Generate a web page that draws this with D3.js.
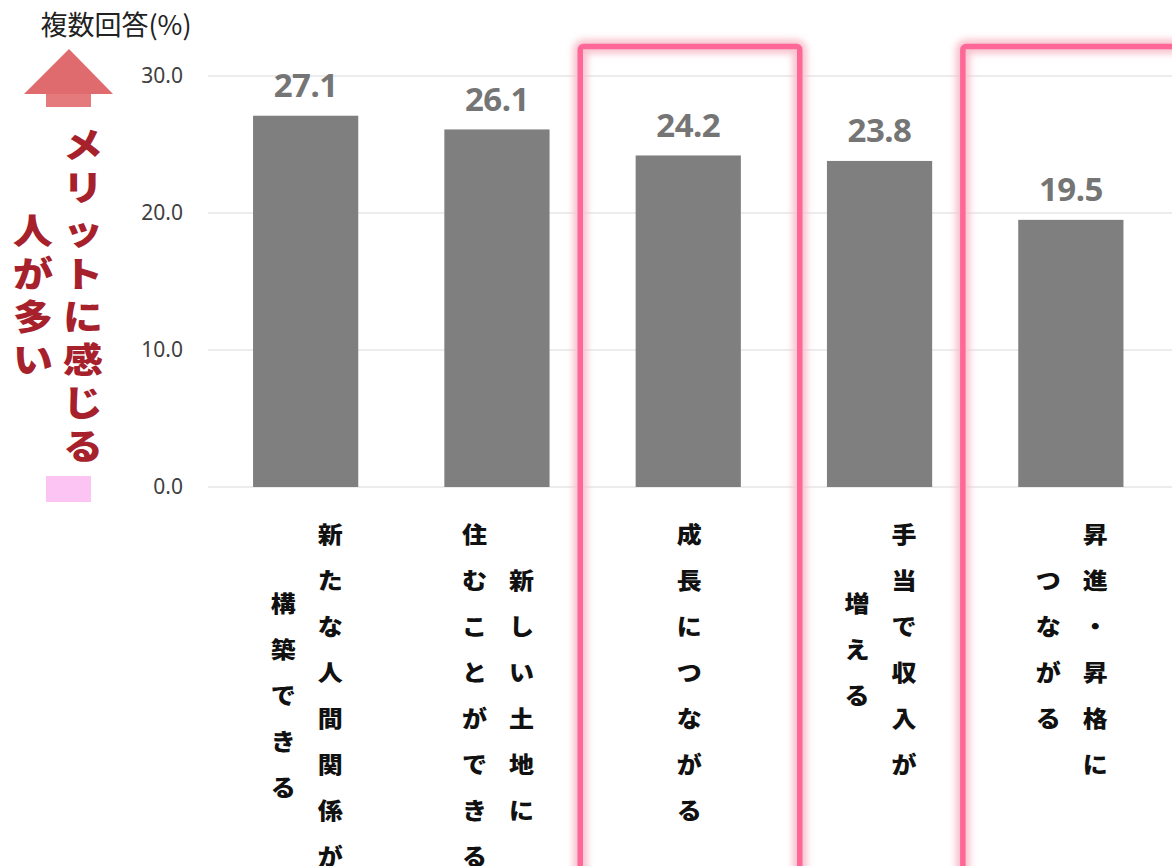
<!DOCTYPE html>
<html lang="ja">
<head>
<meta charset="utf-8">
<script src="https://cdn.jsdelivr.net/npm/d3@7"></script>
<style>
  html, body { margin: 0; padding: 0; background: #fff; }
  svg { display: block; }
</style>
</head>
<body>
<svg id="chart" width="1172" height="866"></svg>
<script>
// Survey: perceived merits (multiple answers, %)
const categories = [
  ["新たな人間関係が", "構築できる"],
  ["新しい土地に", "住むことができる"],
  ["成長につながる"],
  ["手当で収入が", "増える"],
  ["昇進・昇格に", "つながる"]
];
const values = [27.1, 26.1, 24.2, 23.8, 19.5];
const yTicks = [0, 10, 20, 30];
const highlighted = [2, 4];          // categories framed in pink
const yTitle = "複数回答(%)";
const sideNote = ["メリットに感じる", "人が多い"];

const W = 1172, H = 866;
const svg = d3.select("#chart");
const defs = svg.append("defs");
const glow = defs.append("filter").attr("id", "glow")
  .attr("x", "-20%").attr("y", "-20%").attr("width", "140%").attr("height", "140%");
glow.append("feGaussianBlur").attr("stdDeviation", 3.5);

const keys = categories.map((_, i) => i);
const x = d3.scaleBand().domain(keys).range([210, 210 + 191.3 * 5])
  .paddingInner(0.45).paddingOuter(0.225);
const y = d3.scaleLinear().domain([0, 30]).range([487, 76]);

// gridlines
svg.append("g").selectAll("line").data(yTicks).join("line")
  .attr("x1", 208).attr("x2", W)
  .attr("y1", d => y(d)).attr("y2", d => y(d))
  .attr("stroke", "#d9d9d9").attr("stroke-width", 1);

// y axis labels
const yAxis = d3.axisLeft(y).tickValues(yTicks).tickFormat(d3.format(".1f")).tickSize(0).tickPadding(0);
const gy = svg.append("g").attr("transform", "translate(183,0)").call(yAxis);
gy.select(".domain").remove();
gy.selectAll("text")
  .attr("font-family", "'Noto Sans', sans-serif")
  .attr("font-size", 21)
  .attr("fill", "#404040");

// highlight frames
const frames = svg.append("g");
highlighted.forEach(i => {
  const cx = x(i) + x.bandwidth() / 2;
  const x0 = cx - 108;
  const x1 = i === keys.length - 1 ? W + 30 : cx + 111.5;
  const r = { x: x0, y: 46.5, w: x1 - x0, h: H + 40 - 46.5 };
  frames.append("rect")
    .attr("x", r.x).attr("y", r.y).attr("width", r.w).attr("height", r.h)
    .attr("rx", 3).attr("fill", "none")
    .attr("stroke", "#f8c0cc").attr("stroke-width", 14)
    .attr("filter", "url(#glow)");
  frames.append("rect")
    .attr("x", r.x).attr("y", r.y).attr("width", r.w).attr("height", r.h)
    .attr("rx", 3).attr("fill", "none")
    .attr("stroke", "#fe6898").attr("stroke-width", 5.5);
});

// bars
svg.append("g").selectAll("rect").data(values).join("rect")
  .attr("x", (d, i) => x(i))
  .attr("width", x.bandwidth())
  .attr("y", d => y(d))
  .attr("height", d => y(0) - y(d))
  .attr("fill", "#7f7f7f");

// value labels
svg.append("g").selectAll("text").data(values).join("text")
  .attr("x", (d, i) => x(i) + x.bandwidth() / 2)
  .attr("y", d => y(d) - 18.5)
  .attr("text-anchor", "middle")
  .attr("font-family", "'Noto Sans', sans-serif")
  .attr("font-weight", "bold")
  .attr("font-size", 33)
  .attr("letter-spacing", -0.5)
  .attr("fill", "#757575")
  .text(d => d3.format(".1f")(d));

// vertical category labels (columns read right to left, centred on each other)
const step = 46, colGap = 47, firstY = 533;
const catG = svg.append("g")
  .attr("font-family", "'Noto Sans CJK JP', sans-serif")
  .attr("font-weight", 900)
  .attr("font-size", 25)
  .attr("fill", "#111");
categories.forEach((lines, i) => {
  const cx = x(i) + x.bandwidth() / 2 + 1;
  const maxLen = d3.max(lines, l => [...l].length);
  lines.forEach((line, c) => {
    const chars = [...line];
    const colX = cx + ((lines.length - 1) / 2 - c) * colGap;
    const off = (maxLen - chars.length) / 2 * step;
    chars.forEach((ch, k) => {
      catG.append("text")
        .attr("transform", `translate(${colX},${firstY + off + k * step}) scale(1,0.9)`)
        .attr("text-anchor", "middle")
        .attr("dominant-baseline", "central")
        .text(ch);
    });
  });
});

// axis title
svg.append("text")
  .attr("x", 116).attr("y", 35)
  .attr("text-anchor", "middle")
  .attr("font-family", "'Noto Sans CJK JP', sans-serif")
  .attr("font-size", 27)
  .attr("fill", "#222")
  .text(yTitle);

// upward arrow
const arrow = svg.append("g");
arrow.append("rect").attr("x", 46).attr("y", 93).attr("width", 45).attr("height", 14).attr("fill", "#e47a7b");
arrow.append("path").attr("d", "M69,49 L113,94 L24,94 Z").attr("fill", "#e06b6f");

// side note in vertical red text
const noteG = svg.append("g")
  .attr("font-family", "'Noto Sans CJK JP', sans-serif")
  .attr("font-weight", 900)
  .attr("font-size", 40)
  .attr("fill", "#a6212b");
const noteCols = [83, 33];
const noteMax = d3.max(sideNote, l => [...l].length);
sideNote.forEach((line, c) => {
  const chars = [...line];
  const off = (noteMax - chars.length) / 2 * 43;
  chars.forEach((ch, k) => {
    noteG.append("text")
      .attr("transform", `translate(${noteCols[c]},${143 + off + k * 43}) scale(1,0.88)`)
      .attr("text-anchor", "middle")
      .attr("dominant-baseline", "central")
      .text(ch);
  });
});

// pale pink marker at the bottom of the arrow
svg.append("rect").attr("x", 46).attr("y", 476).attr("width", 45).attr("height", 26).attr("fill", "#fbc4f3");
</script>
</body>
</html>
